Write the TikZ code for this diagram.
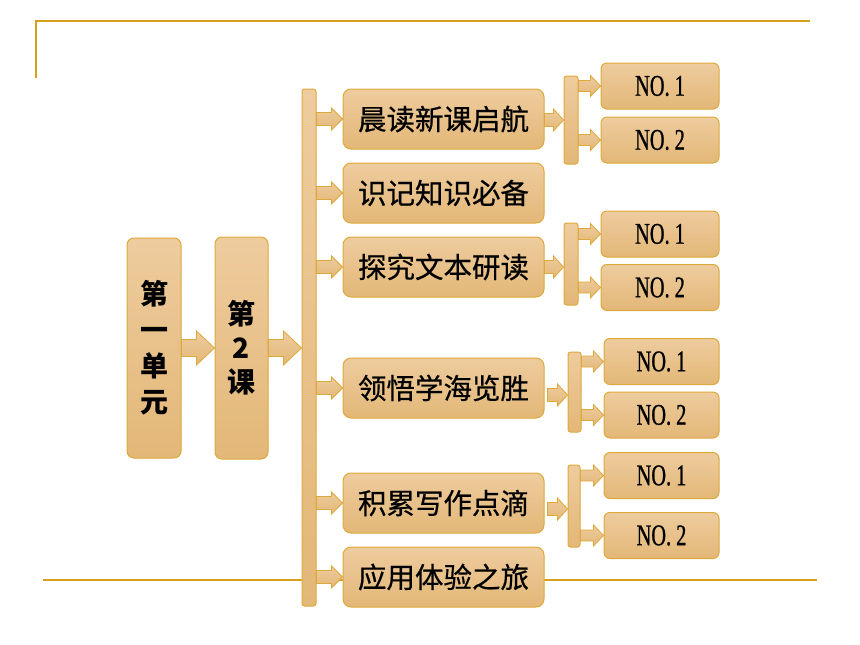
\documentclass[tikz,border=0pt]{standalone}
\usepackage{fontspec}
\newfontfamily\cjk{Noto Sans CJK SC}
\newfontfamily\cjkmid[FakeBold=0.6]{Noto Sans CJK SC}
\newfontfamily\nofont[FakeStretch=0.68,FakeBold=0.8]{Liberation Serif}
\usetikzlibrary{calc}
\definecolor{boxtop}{HTML}{EECC9E}
\definecolor{boxbot}{HTML}{E3B777}
\definecolor{boxline}{HTML}{DDA93C}
\definecolor{rulecol}{HTML}{D6A21E}
\tikzset{
  basebox/.style={draw=boxline, line width=1pt, top color=boxtop, bottom color=boxbot, inner sep=0pt, text=black},
  tallbox/.style={basebox, rounded corners=7pt, minimum width=54pt, align=center, font=\cjk\bfseries\fontsize{28}{36}\selectfont},
  midbox/.style={basebox, rounded corners=8pt, minimum width=201pt, minimum height=60pt, font=\cjkmid\fontsize{28.5}{30}\selectfont},
  nobox/.style={basebox, rounded corners=6pt, minimum height=46pt, font=\nofont\fontsize{30}{30}\selectfont},
  barbox/.style={basebox, rounded corners=2.5pt, minimum width=14pt},
  arrowstyle/.style={draw=boxline, line width=0.8pt, top color=boxtop, bottom color=boxbot, line join=miter},
  rulestyle/.style={draw=rulecol, line width=1.6pt}
}
\newcommand\blockarr[5]{%
  \shadedraw[arrowstyle] let \p1=#1, \p2=#2 in
    (\x1,{\y1+#3}) -- ({\x2-#5},{\y1+#3}) -- ({\x2-#5},{\y1+#4}) -- (\x2,\y1)
    -- ({\x2-#5},{\y1-#4}) -- ({\x2-#5},{\y1-#3}) -- (\x1,{\y1-#3}) -- cycle;}
\newcommand\noname{NO.\hspace{5pt}}
\begin{document}
\begin{tikzpicture}[x=1pt,y=-1pt]
\useasboundingbox (0,0) rectangle (860,645);
% rules
\draw[rulestyle] (36,78) -- (36,21) -- (810,21);
\draw[rulestyle] (43,580) -- (817,580);
% left boxes
\node[tallbox, minimum height=220pt] (A) at (154,348) {第\\一\\单\\元};
\node[tallbox, minimum width=53pt, minimum height=222pt, font=\cjk\bfseries\fontsize{28}{34}\selectfont] (B) at (241.5,348) {第\\2\\课};
% main bar
\node[barbox, minimum height=517pt] (bar) at (309,347.5) {};
% middle boxes
\node[midbox] (m1) at (443.5,119) {晨读新课启航};
\node[midbox] (m2) at (443.5,193) {识记知识必备};
\node[midbox] (m3) at (443.5,267) {探究文本研读};
\node[midbox] (m4) at (443.5,388) {领悟学海览胜};
\node[midbox] (m5) at (443.5,503) {积累写作点滴};
\node[midbox] (m6) at (443.5,577) {应用体验之旅};
% small bars
\node[barbox, minimum height=88pt] (s1) at (571,120) {};
\node[barbox, minimum height=82pt] (s3) at (571,264) {};
\node[barbox, minimum height=80pt, minimum width=13pt] (s4) at (574.5,392) {};
\node[barbox, minimum height=82pt, minimum width=12pt] (s5) at (574,506) {};
% NO boxes
\node[nobox, minimum width=118pt] (n11) at (660,86) {\noname1};
\node[nobox, minimum width=118pt] (n12) at (660,140) {\noname2};
\node[nobox, minimum width=118pt] (n31) at (660,234) {\noname1};
\node[nobox, minimum width=118pt] (n32) at (660,287.5) {\noname2};
\node[nobox, minimum width=115pt] (n41) at (661.5,361.5) {\noname1};
\node[nobox, minimum width=115pt] (n42) at (661.5,415) {\noname2};
\node[nobox, minimum width=115pt] (n51) at (661.5,475.5) {\noname1};
\node[nobox, minimum width=115pt] (n52) at (661.5,535.5) {\noname2};
% big arrows
\blockarr{(A.east)}{(B.west)}{8.5pt}{17pt}{18pt}
\blockarr{(B.east)}{(bar.west)}{8.5pt}{17pt}{18pt}
% bar to middle boxes
\foreach \m in {m1,m2,m3,m4,m5,m6}{
  \blockarr{(bar.east |- \m.west)}{(\m.west)}{6.5pt}{11pt}{11pt}
}
% middle boxes to small bars
\blockarr{([yshift=-1pt]m1.east)}{(s1.west)}{6.5pt}{11pt}{10pt}
\blockarr{(m3.east)}{(s3.west)}{6.5pt}{11pt}{10pt}
\blockarr{([xshift=3pt,yshift=-7pt]m4.east)}{(s4.west)}{6.5pt}{11pt}{10pt}
\blockarr{([xshift=3pt,yshift=-6pt]m5.east)}{(s5.west)}{6.5pt}{11pt}{10pt}
% small bars to NO boxes
\blockarr{(s1.east |- n11.west)}{(n11.west)}{5.5pt}{10.5pt}{10pt}
\blockarr{(s1.east |- n12.west)}{(n12.west)}{5.5pt}{10.5pt}{10pt}
\blockarr{(s3.east |- n31.west)}{(n31.west)}{5.5pt}{10.5pt}{10pt}
\blockarr{(s3.east |- n32.west)}{(n32.west)}{5.5pt}{10.5pt}{10pt}
\blockarr{(s4.east |- n41.west)}{(n41.west)}{5.5pt}{10.5pt}{10pt}
\blockarr{(s4.east |- n42.west)}{(n42.west)}{5.5pt}{10.5pt}{10pt}
\blockarr{(s5.east |- n51.west)}{(n51.west)}{5.5pt}{10.5pt}{10pt}
\blockarr{(s5.east |- n52.west)}{(n52.west)}{5.5pt}{10.5pt}{10pt}
\end{tikzpicture}
\end{document}
